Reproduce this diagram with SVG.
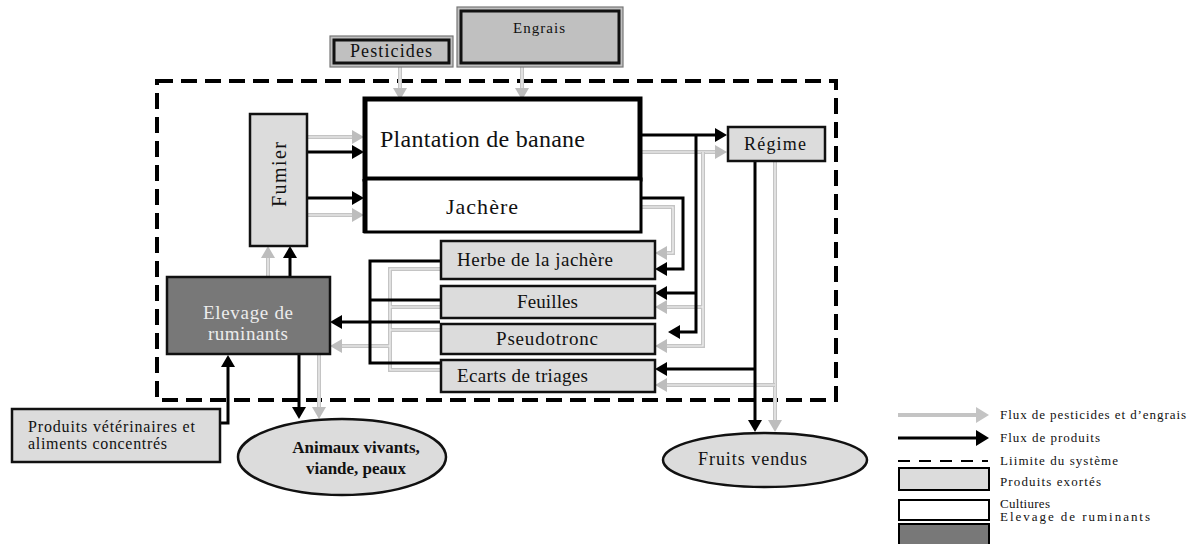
<svg xmlns="http://www.w3.org/2000/svg" width="1199" height="544" viewBox="0 0 1199 544" font-family="'Liberation Serif','DejaVu Serif',serif">
<style>
text{font-family:"Liberation Serif","DejaVu Serif",serif;fill:#111}
.prod{fill:#dcdcdc;stroke:#111;stroke-width:2.5}
.inp{fill:#c0c0c0;stroke:#111;stroke-width:3}
.inpo{fill:#c0c0c0;stroke:#777;stroke-width:1.2}
.crop{fill:#fff;stroke:#000}
.elev{fill:#787878;stroke:#111;stroke-width:2.5}
.b{fill:none;stroke:#000;stroke-width:3;marker-end:url(#ab)}
.bl{fill:none;stroke:#000;stroke-width:3}
.g{fill:none;stroke:#c4c4c4;stroke-width:4;marker-end:url(#ag)}
.gl{fill:none;stroke:#c4c4c4;stroke-width:4}
.gi{fill:none;stroke:#f4f4f4;stroke-width:1.2}
.dash{fill:none;stroke:#000;stroke-width:4;stroke-dasharray:16 8}
.leg{font-size:13px}
</style>
<defs>
<marker id="ab" markerUnits="userSpaceOnUse" markerWidth="14" markerHeight="16" refX="0" refY="7" orient="auto" overflow="visible"><path d="M0,0 L12,7 L0,14 z" fill="#000"/></marker>
<marker id="ag" markerUnits="userSpaceOnUse" markerWidth="14" markerHeight="16" refX="0" refY="7" orient="auto" overflow="visible"><path d="M0,0 L12,7 L0,14 z" fill="#bdbdbd"/></marker>
</defs>

<rect id="boundary" class="dash" x="157" y="81" width="679" height="319"/>

<g id="connectors">
<path class="g" d="M400,67 V88"/><path class="gi" d="M400,67 V88"/>
<path class="g" d="M522,67 V88"/><path class="gi" d="M522,67 V88"/>
<path class="g" d="M308,137 H352"/><path class="gi" d="M308,137 H352"/>
<path class="g" d="M308,215 H352"/><path class="gi" d="M308,215 H352"/>
<path class="g" d="M268,277 V258"/><path class="gi" d="M268,277 V258"/>
<path class="g" d="M319,354 V407"/><path class="gi" d="M319,354 V407"/>
<path class="gl" d="M440,269 H390 V370 H440 M440,307 H390 M440,330 H390"/>
<path class="g" d="M390,346 H342"/>
<path class="gi" d="M440,269 H390 V370 H440 M440,307 H390 M440,330 H390 M390,346 H342"/>
<path class="g" d="M640,152 H715"/><path class="gi" d="M640,152 H715"/>
<path class="g" d="M703,152 V346 H667"/>
<path class="g" d="M703,307 H667"/>
<path class="gi" d="M703,152 V346 H667 M703,307 H667"/>
<path class="g" d="M641,207 H673 V253 H667"/><path class="gi" d="M641,207 H673 V253 H667"/>
<path class="g" d="M775,162 V420"/><path class="gi" d="M775,162 V420"/>
<path class="g" d="M775,385 H667"/><path class="gi" d="M775,385 H667"/>
<path class="b" d="M308,152 H352"/>
<path class="b" d="M308,198 H352"/>
<path class="b" d="M290,277 V258"/>
<path class="b" d="M220,423 H228 V367"/>
<path class="b" d="M299,354 V407"/>
<path class="bl" d="M440,261 H370 V363 H440 M440,300 H370"/>
<path class="b" d="M440,322 H342"/>
<path class="b" d="M640,135 H715"/>
<path class="b" d="M696,135 V332 H680"/>
<path class="b" d="M696,293 H667"/>
<path class="b" d="M641,198 H683 V269 H667"/>
<path class="b" d="M755,162 V420"/>
<path class="b" d="M755,369 H667"/>
</g>

<g id="pesticides">
<rect class="inpo" x="330" y="36" width="123" height="31"/>
<rect class="inp" x="334" y="40" width="115" height="23"/>
<text x="350" y="57" font-size="18" textLength="82">Pesticides</text>
</g>
<g id="engrais">
<rect class="inpo" x="457" y="7" width="166" height="60"/>
<rect class="inp" x="461" y="11" width="158" height="52"/>
<text x="513" y="33" font-size="15" textLength="52">Engrais</text>
</g>

<g id="plantation">
<rect class="crop" x="365" y="99" width="275" height="80" stroke-width="5"/>
<text x="380" y="147" font-size="24" textLength="205">Plantation de banane</text>
</g>
<g id="jachere">
<rect class="crop" x="365" y="179" width="276" height="53" stroke-width="3"/>
<line x1="365" y1="179" x2="365" y2="233" stroke="#000" stroke-width="5"/>
<text x="446" y="214" font-size="22" textLength="72">Jachère</text>
</g>

<g id="regime">
<rect class="prod" x="728" y="127" width="97" height="34"/>
<text x="744" y="150" font-size="18" textLength="62">Régime</text>
</g>

<g id="fumier">
<rect class="prod" x="250" y="114" width="57" height="132"/>
<text transform="translate(286,207) rotate(-90)" font-size="20" textLength="65">Fumier</text>
</g>

<g id="elevage">
<rect class="elev" x="167" y="277" width="163" height="77"/>
<text x="203" y="319" font-size="19" textLength="90" style="fill:#ececec">Elevage de</text>
<text x="208" y="340" font-size="19" textLength="80" style="fill:#ececec">ruminants</text>
</g>

<g id="herbe">
<rect class="prod" x="441" y="241" width="214" height="38"/>
<text x="457" y="266" font-size="19" textLength="156">Herbe de la jachère</text>
</g>
<g id="feuilles">
<rect class="prod" x="441" y="286" width="214" height="32"/>
<text x="517" y="308" font-size="19" textLength="61">Feuilles</text>
</g>
<g id="pseudotronc">
<rect class="prod" x="441" y="324" width="214" height="30"/>
<text x="496" y="345" font-size="19" textLength="102">Pseudotronc</text>
</g>
<g id="ecarts">
<rect class="prod" x="441" y="360" width="214" height="32"/>
<text x="457" y="382" font-size="19" textLength="131">Ecarts de triages</text>
</g>

<g id="veterinaires">
<rect class="prod" x="12" y="409" width="208" height="53"/>
<text x="28" y="432" font-size="16" textLength="167">Produits vétérinaires et</text>
<text x="28" y="449" font-size="16" textLength="139">aliments concentrés</text>
</g>

<g id="animaux">
<ellipse cx="342" cy="457" rx="104" ry="38" fill="#dcdcdc" stroke="#111" stroke-width="2.5"/>
<text x="356" y="453" font-size="17" font-weight="bold" text-anchor="middle">Animaux vivants,</text>
<text x="356" y="474" font-size="17" font-weight="bold" text-anchor="middle">viande, peaux</text>
</g>

<g id="fruits">
<ellipse cx="765" cy="460" rx="102" ry="27" fill="#dcdcdc" stroke="#111" stroke-width="2.5"/>
<text x="698" y="465" font-size="18" textLength="109">Fruits vendus</text>
</g>

<g id="legend">
<path class="gl" d="M898,415 H976" stroke-width="3"/>
<path d="M976,407 L989,415 L976,423 z" fill="#c4c4c4"/>
<path class="bl" d="M898,438 H976"/>
<path d="M976,430 L989,438 L976,446 z" fill="#000"/>
<path d="M898,461 H988" fill="none" stroke="#000" stroke-width="2" stroke-dasharray="12 9"/>
<rect x="899" y="468" width="90" height="22" fill="#dcdcdc" stroke="#000" stroke-width="2"/>
<rect x="899" y="500" width="90" height="20" fill="#fff" stroke="#000" stroke-width="2"/>
<rect x="899" y="524" width="90" height="26" fill="#787878" stroke="#000" stroke-width="2"/>
<text class="leg" x="1000" y="419" textLength="186">Flux de pesticides et d’engrais</text>
<text class="leg" x="1000" y="442" textLength="100">Flux de produits</text>
<text class="leg" x="1000" y="465" textLength="118">Liimite du système</text>
<text class="leg" x="1000" y="486" textLength="101">Produits exortés</text>
<text class="leg" x="1000" y="508" textLength="50">Cultiures</text>
<text class="leg" x="1000" y="521" textLength="150">Elevage de ruminants</text>
</g>
</svg>
